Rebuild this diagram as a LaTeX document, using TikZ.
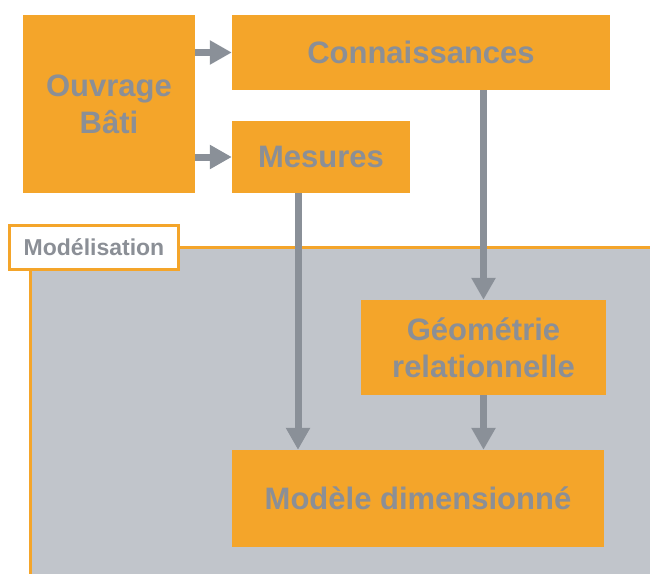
\documentclass[tikz,border=0pt]{standalone}
\usepackage{fontspec}
\setmainfont{Liberation Sans}
\usetikzlibrary{arrows.meta,calc}
\definecolor{orng}{HTML}{F4A52A}
\definecolor{bggray}{HTML}{C1C5CB}
\definecolor{txtgray}{HTML}{8B8F96}
\definecolor{arrgray}{HTML}{8A9098}
\tikzset{
  box/.style={fill=orng, inner sep=0pt, align=center, text=txtgray,
    font=\fontsize{31}{37}\selectfont\bfseries},
  arr/.style={draw=arrgray, line width=7pt,
    -{Triangle[length=22pt,width=23pt]}},
}
\begin{document}
\begin{tikzpicture}[x=1pt,y=-1pt]
\useasboundingbox (0,0) rectangle (650,573);
% modelling area
\fill[bggray] (30,247) rectangle (652,575);
\draw[orng, line width=3pt] (30,576) -- (30,247) -- (652,247);
\node[draw=orng, line width=3pt, fill=white, minimum width=169pt, minimum height=44pt,
  inner sep=0pt, text=txtgray, font=\fontsize{23}{27}\selectfont\bfseries]
  (lab) at (94,247.5) {Modélisation};
% boxes
\node[box, minimum width=172pt, minimum height=178pt] (ouv) at (109,104) {Ouvrage\\Bâti};
\node[box, minimum width=378pt, minimum height=75pt] (con) at (421,52.5) {Connaissances};
\node[box, minimum width=178pt, minimum height=72pt] (mes) at (321,157) {Mesures};
\node[box, minimum width=245pt, minimum height=95pt] (geo) at (483.5,347.5) {Géométrie\\relationnelle};
\node[box, minimum width=372pt, minimum height=97pt] (mod) at (418,498.5) {Modèle dimensionné};
% arrows
\draw[arr] (ouv.east |- con.west) -- (con.west);
\draw[arr] (ouv.east |- mes.west) -- (mes.west);
\draw[arr] (con.south -| geo.north) -- (geo.north);
\coordinate (m1) at (298,193);
\draw[arr] (m1) -- (m1 |- mod.north);
\draw[arr] (geo.south) -- (geo.south |- mod.north);
\end{tikzpicture}
\end{document}
